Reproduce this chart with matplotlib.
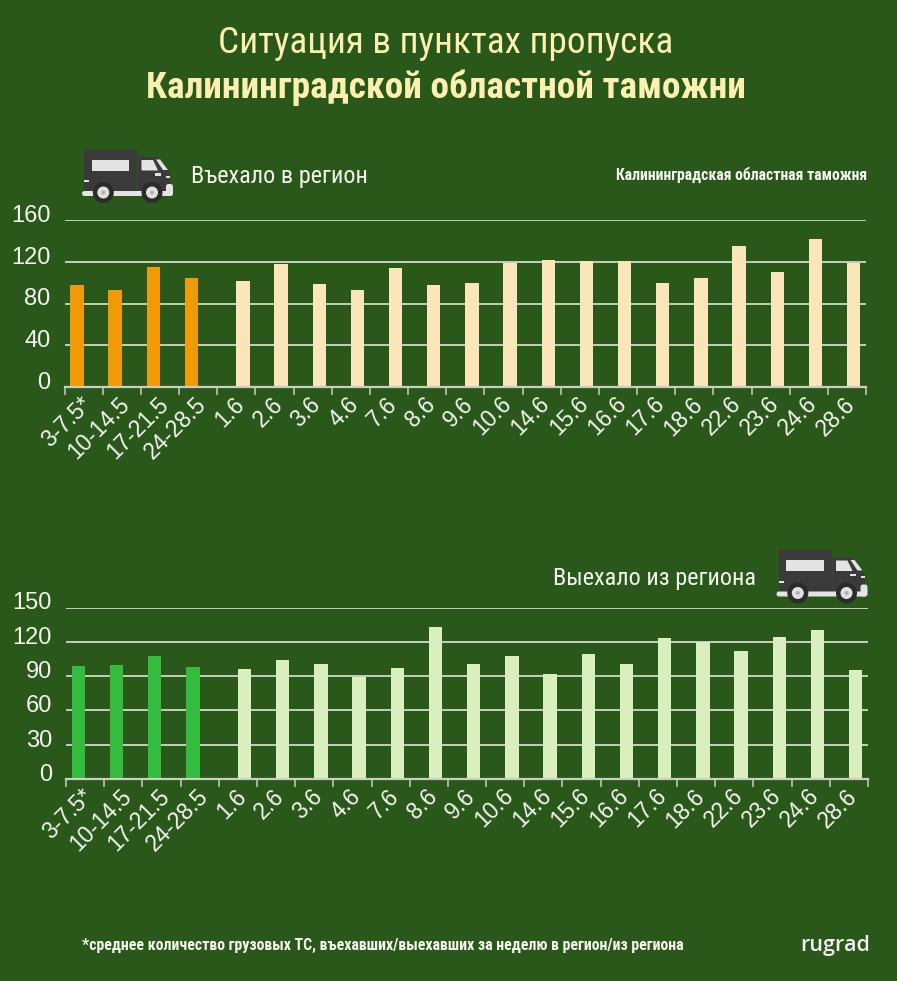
import matplotlib
matplotlib.use("Agg")
import matplotlib.pyplot as plt
from matplotlib.patches import Circle, Polygon, Rectangle, FancyBboxPatch
from matplotlib.transforms import ScaledTranslation

W, H = 897, 981
BG = "#2a581b"
SANS = ["Liberation Sans", "DejaVu Sans"]
NARROW = ["Liberation Sans Narrow", "Roboto Condensed", "DejaVu Sans"]

categories_in = ["3-7.5*", "10-14.5", "17-21.5", "24-28.5", "1.6", "2.6", "3.6", "4.6", "7.6", "8.6", "9.6",
                 "10.6", "14.6", "15.6", "16.6", "17.6", "18.6", "22.6", "23.6", "24.6", "28.6"]
categories_out = categories_in
weekly_in = [98, 93, 115, 104]
daily_in = [102, 118, 99, 93, 114, 98, 100, 119, 122, 121, 121, 100, 104, 135, 110, 142, 119]
weekly_out = [99, 100, 108, 98]
daily_out = [96, 104, 101, 89, 97, 133, 101, 108, 92, 109, 101, 123, 120, 112, 124, 130, 95]
yticks_in = [0, 40, 80, 120, 160]
yticks_out = [0, 30, 60, 90, 120, 150]

fig = plt.figure(figsize=(W / 100, H / 100), dpi=100, facecolor=BG)


def px_axes(left, right, top, bottom):
    return fig.add_axes([left / W, 1 - bottom / H, (right - left) / W, (bottom - top) / H])


def panel(ax, labels, weekly, daily, yticks, col_week, col_day):
    n = len(labels)
    width = 0.35
    xs_week = [i - width / 2 for i in range(len(weekly))]
    xs_day = [len(weekly) + i + width / 2 for i in range(len(daily))]
    ax.set_facecolor("none")
    ax.bar(xs_week, weekly, width=width, color=col_week, zorder=3)
    ax.bar(xs_day, daily, width=width, color=col_day, zorder=3)
    ax.set_xlim(-0.5, n - 0.5)
    ax.set_ylim(0, yticks[-1])
    ax.set_yticks(yticks)
    ax.grid(axis="y", color="#cfd8c6", lw=1.3, zorder=1)
    ax.set_axisbelow(True)
    for s in ("top", "left", "right"):
        ax.spines[s].set_visible(False)
    ax.spines["bottom"].set_color("#c8d0c0")
    ax.spines["bottom"].set_linewidth(1.6)
    ax.spines["bottom"].set_zorder(4)

    ax.set_xticks(range(n))
    ax.set_xticklabels(labels)
    ax.set_xticks([i - 0.5 for i in range(n + 1)], minor=True)
    ax.tick_params(axis="x", which="major", length=0, pad=4)
    ax.tick_params(axis="x", which="minor", length=6, width=1.1, color="#c8d0c0")
    ax.tick_params(axis="y", length=0, pad=10)

    y_shift = ScaledTranslation(0, 4.8 / 72, fig.dpi_scale_trans)
    for lab in ax.get_yticklabels():
        lab.set_fontfamily(SANS)
        lab.set_fontsize(17)
        lab.set_color("#f4f6f0")
        lab.set_transform(lab.get_transform() + y_shift)
    x_shift = ScaledTranslation(-2.5 / 72, 0, fig.dpi_scale_trans)
    for lab in ax.get_xticklabels():
        lab.set_fontfamily(SANS)
        lab.set_fontsize(16.4)
        lab.set_color("#f4f6f0")
        lab.set_rotation(45)
        lab.set_ha("right")
        lab.set_va("top")
        lab.set_rotation_mode("anchor")
        lab.set_transform(lab.get_transform() + x_shift)


panel(px_axes(64.5, 866, 220, 387), categories_in, weekly_in, daily_in, yticks_in, "#f09a08", "#fae6b8")
panel(px_axes(66, 868, 607.5, 779), categories_out, weekly_out, daily_out, yticks_out, "#35bb3e", "#d9efc0")

# Overlay in pixel coordinates for the delivery-truck pictograms and the captions
over = fig.add_axes([0, 0, 1, 1], zorder=10)
over.set_xlim(0, W)
over.set_ylim(H, 0)
over.axis("off")


def truck(dx, dy):
    body = "#3a3a3a"
    dark = "#2b2b2b"
    light = "#e4e4e4"
    add = over.add_patch
    add(Rectangle((84 + dx, 149.5 + dy), 53, 42, color=body, lw=0))
    add(Polygon([(138 + dx, 192 + dy), (138 + dx, 157 + dy), (157 + dx, 157 + dy), (170 + dx, 172 + dy),
                 (171 + dx, 192 + dy)], closed=True, color=body, lw=0))
    add(Rectangle((91.5 + dx, 159.5 + dy), 37.5, 11, color=light, lw=0))
    add(Polygon([(141.5 + dx, 160 + dy), (153 + dx, 160 + dy), (158 + dx, 170.5 + dy), (141.5 + dx, 170.5 + dy)],
                closed=True, color=light, lw=0))
    add(Polygon([(156 + dx, 159.5 + dy), (160 + dx, 159.5 + dy), (168 + dx, 170 + dy), (163 + dx, 170 + dy)],
                closed=True, color=light, lw=0))
    add(FancyBboxPatch((82 + dx, 191 + dy), 90, 5, boxstyle="round,pad=0,rounding_size=2.5", color=light, lw=0))
    add(FancyBboxPatch((166 + dx, 184 + dy), 7, 12, boxstyle="round,pad=0,rounding_size=2.5", color=light, lw=0))
    add(Rectangle((84 + dx, 180 + dy), 5, 2, color=light, lw=0))
    add(Rectangle((155 + dx, 173 + dy), 6, 2.5, color=light, lw=0))
    add(Rectangle((166 + dx, 175.5 + dy), 4, 2, color=light, lw=0))
    for cx in (103.3, 152):
        add(Circle((cx + dx, 192.5 + dy), 10.5, color=dark, lw=0))
        add(Circle((cx + dx, 192.5 + dy), 6, color="#e0e0e0", lw=0))
        add(Circle((cx + dx, 192.5 + dy), 2, color="#b0b0b0", lw=0))


truck(0, 0)
truck(694.5, 400.5)

title_col = "#fbf0b0"
txt = "#f4f6ee"
over.text(445.5, 43, "Ситуация в пунктах пропуска", ha="center", va="center", color=title_col,
          fontfamily=NARROW, fontsize=26.8)
over.text(446, 88, "Калининградской областной таможни", ha="center", va="center", color=title_col,
          fontfamily=NARROW, fontsize=26.8, fontweight="bold")
over.text(191, 176, "Въехало в регион", ha="left", va="center", color=txt, fontfamily=NARROW, fontsize=17.5)
over.text(867, 175, "Калининградская областная таможня", ha="right", va="center", color=txt,
          fontfamily=NARROW, fontsize=11.3, fontweight="bold")
over.text(756, 578, "Выехало из региона", ha="right", va="center", color=txt, fontfamily=NARROW, fontsize=17.5)
over.text(82, 945, "*среднее количество грузовых ТС, въехавших/выехавших за неделю в регион/из региона",
          ha="left", va="center", color=txt, fontfamily=NARROW, fontsize=11.43, fontweight="bold")
over.text(870, 946, "rugrad", ha="right", va="center", color="#f0f0f0", fontfamily=["Open Sans", "DejaVu Sans"],
          fontsize=15.5, fontweight="semibold")

fig.savefig("out.png", dpi=100, facecolor=BG)
